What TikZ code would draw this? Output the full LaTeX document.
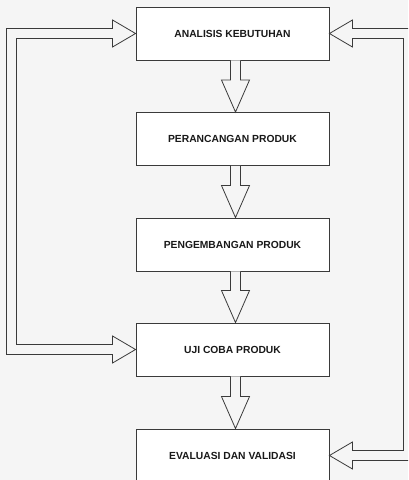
\documentclass[tikz,border=0pt]{standalone}
\usepackage{fontspec}
\setmainfont{Liberation Sans}
\usetikzlibrary{calc}
\definecolor{bgc}{HTML}{F5F5F5}
\definecolor{linec}{HTML}{3A3A3A}
\tikzset{
  box/.style={draw=linec, line width=0.9pt, fill=white, minimum width=193pt, minimum height=53pt, inner sep=0pt,
    font=\fontsize{10.3}{12}\selectfont\bfseries, text=black!90},
  blk/.style={draw=linec, line width=0.8pt, fill=bgc, line join=miter}
}
\newcommand{\vblock}[2]{%
  \draw[blk] ($(#1.south)+(-2,0)$) -- ($(#2.north)+(-2,32)$) -- ($(#2.north)+(-11,32)$) -- ($(#2.north)+(3,0)$)
    -- ($(#2.north)+(17,32)$) -- ($(#2.north)+(8,32)$) -- ($(#1.south)+(8,0)$);}
\begin{document}
\begin{tikzpicture}[x=1pt,y=1pt]
\useasboundingbox (0,0) rectangle (408,-480);
\fill[bgc] (0,0) rectangle (408,-480);
\clip (0,0) rectangle (408,-480);
\node[box] (n1) at (232.5,-33.5) {ANALISIS KEBUTUHAN};
\node[box] (n2) at (232.5,-139) {PERANCANGAN PRODUK};
\node[box] (n3) at (232.5,-244.5) {PENGEMBANGAN PRODUK};
\node[box] (n4) at (232.5,-349.5) {UJI COBA PRODUK};
\node[box] (n5) at (232.5,-455.5) {EVALUASI DAN VALIDASI};
\vblock{n1}{n2}
\vblock{n2}{n3}
\vblock{n3}{n4}
\vblock{n4}{n5}
% left loop: arrows into n1 and n4
\draw[blk] (n1.west) -- ($(n1.west)+(-23,13.5)$) -- ($(n1.west)+(-23,5)$) -- ($(n1.west)+(-129,5)$)
  -- ($(n4.west)+(-129,-5)$) -- ($(n4.west)+(-23,-5)$) -- ($(n4.west)+(-23,-13.5)$) -- (n4.west)
  -- ($(n4.west)+(-23,13.5)$) -- ($(n4.west)+(-23,5)$) -- ($(n4.west)+(-119,5)$)
  -- ($(n1.west)+(-119,-5)$) -- ($(n1.west)+(-23,-5)$) -- ($(n1.west)+(-23,-13.5)$) -- cycle;
% right loop: arrows into n1 and n5
\draw[blk] (n1.east) -- ($(n1.east)+(23,13.5)$) -- ($(n1.east)+(23,5)$) -- ($(n1.east)+(84,5)$)
  -- ($(n5.east)+(84,-5)$) -- ($(n5.east)+(23,-5)$) -- ($(n5.east)+(23,-13.5)$) -- (n5.east)
  -- ($(n5.east)+(23,13.5)$) -- ($(n5.east)+(23,5)$) -- ($(n5.east)+(74,5)$)
  -- ($(n1.east)+(74,-5)$) -- ($(n1.east)+(23,-5)$) -- ($(n1.east)+(23,-13.5)$) -- cycle;
\end{tikzpicture}
\end{document}
